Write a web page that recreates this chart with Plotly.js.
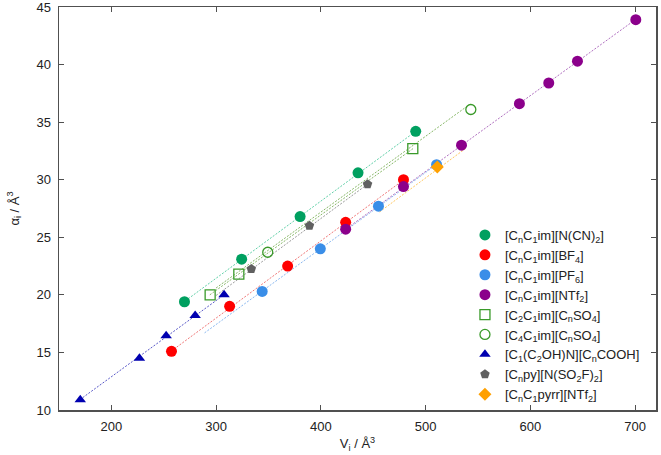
<!DOCTYPE html>
<html>
<head>
<meta charset="utf-8">
<script src="https://cdn.plot.ly/plotly-3.0.1.min.js"></script>
<style>html,body{margin:0;padding:0;background:#fff;}#chart{width:661px;height:455px;}</style>
</head>
<body>
<div id="chart"></div>
<script>
// ---- Data ----
// [CnC1im][N(CN)2]
const ncnV = [269.8, 324.4, 380.2, 435.5, 490.6];
const ncnA = [19.4, 23.1, 26.8, 30.6, 34.2];
// [CnC1im][BF4]
const bf4V = [257.4, 312.9, 368.3, 423.7, 478.9];
const bf4A = [15.1, 19.0, 22.5, 26.3, 30.0];
// [CnC1im][PF6]
const pf6V = [344.0, 399.5, 455.0, 510.5];
const pf6A = [20.3, 24.0, 27.7, 31.3];
// [CnC1im][NTf2]
const ntfV = [423.7, 478.9, 534.3, 589.6, 617.6, 645.0, 700.7];
const ntfA = [25.7, 29.4, 33.0, 36.6, 38.4, 40.3, 43.9];
// [C2C1im][CnSO4]
const c2so4V = [294.3, 321.7, 487.8];
const c2so4A = [20.0, 21.8, 32.7];
// [C4C1im][CnSO4]
const c4so4V = [349.3, 543.2];
const c4so4A = [23.7, 36.1];
// [C1(C2OH)N][CnCOOH]
const coohV = [170.3, 226.8, 252.3, 280.0, 307.6];
const coohA = [10.9, 14.5, 16.45, 18.2, 20.0];
// [Cnpy][N(SO2F)2]
const fsiV = [333.6, 389.1, 444.6];
const fsiA = [22.25, 26.0, 29.6];
// [CnC1pyrr][NTf2]
const pyrrV = [511.2];
const pyrrA = [31.1];

// Fit-line end points
const fitNcnV = [268, 492],  fitNcnA = [19.3, 34.3];
const fitBf4V = [257, 480],  fitBf4A = [15.1, 30.05];
const fitPf6V = [289, 511],  fitPf6A = [16.7, 31.35];
const fitNtfV = [423, 701],  fitNtfA = [25.65, 43.95];
const fitC2V  = [294, 488],  fitC2A  = [20.0, 32.7];
const fitC4V  = [300, 543],  fitC4A  = [20.6, 36.6];
const fitCoohV = [170, 309], fitCoohA = [10.9, 20.1];
const fitFsiV = [300, 446],  fitFsiA = [19.95, 29.7];
const fitPyrrV = [456, 538], fitPyrrA = [27.2, 32.7];

// Tick values
const xTicks = [200, 300, 400, 500, 600, 700];
const yTicks = [10, 15, 20, 25, 30, 35, 40, 45];

const names = [
  '[C<sub>n</sub>C<sub>1</sub>im][N(CN)<sub>2</sub>]',
  '[C<sub>n</sub>C<sub>1</sub>im][BF<sub>4</sub>]',
  '[C<sub>n</sub>C<sub>1</sub>im][PF<sub>6</sub>]',
  '[C<sub>n</sub>C<sub>1</sub>im][NTf<sub>2</sub>]',
  '[C<sub>2</sub>C<sub>1</sub>im][C<sub>n</sub>SO<sub>4</sub>]',
  '[C<sub>4</sub>C<sub>1</sub>im][C<sub>n</sub>SO<sub>4</sub>]',
  '[C<sub>1</sub>(C<sub>2</sub>OH)N][C<sub>n</sub>COOH]',
  '[C<sub>n</sub>py][N(SO<sub>2</sub>F)<sub>2</sub>]',
  '[C<sub>n</sub>C<sub>1</sub>pyrr][NTf<sub>2</sub>]'
];

function fit(x, y, color) {
  return {x: x, y: y, type: 'scatter', mode: 'lines', showlegend: false, hoverinfo: 'skip',
          line: {color: color, width: 1, dash: '2px,1.5px'}};
}
function pts(x, y, name, symbol, color, size, open) {
  const m = {symbol: symbol, color: color, size: size};
  if (open) m.line = {color: color, width: 1.3};
  return {x: x, y: y, type: 'scatter', mode: 'markers', name: name, marker: m};
}

const data = [
  fit(fitNcnV, fitNcnA, '#60d0a8'),
  fit(fitBf4V, fitBf4A, '#f07878'),
  fit(fitPf6V, fitPf6A, '#8ab8f0'),
  fit(fitNtfV, fitNtfA, '#b070c0'),
  fit(fitC2V, fitC2A, '#88b868'),
  fit(fitC4V, fitC4A, '#88b868'),
  fit(fitCoohV, fitCoohA, '#5858c8'),
  fit(fitFsiV, fitFsiA, '#9a9a9a'),
  fit(fitPyrrV, fitPyrrA, '#ffc860'),
  pts(ncnV, ncnA, names[0], 'circle', '#00a060', 11, false),
  pts(bf4V, bf4A, names[1], 'circle', '#ff0000', 11, false),
  pts(pf6V, pf6A, names[2], 'circle', '#3a8ee8', 11, false),
  pts(ntfV, ntfA, names[3], 'circle', '#8b008b', 11, false),
  pts(c2so4V, c2so4A, names[4], 'square-open', '#3a9a2a', 10, true),
  pts(c4so4V, c4so4A, names[5], 'circle-open', '#3a9a2a', 10, true),
  pts(coohV, coohA, names[6], 'triangle-up', '#0000b0', 10, false),
  pts(fsiV, fsiA, names[7], 'pentagon', '#606060', 10, false),
  pts(pyrrV, pyrrA, names[8], 'diamond', '#ffa000', 10, false)
];

const axisCommon = {
  showgrid: false, zeroline: false, showline: true, mirror: 'ticks',
  linecolor: '#505050', linewidth: 1.5, ticks: 'inside', ticklen: 5, tickwidth: 1,
  tickcolor: '#505050', tickfont: {size: 13, color: '#222'}, ticklabeloverflow: 'allow'
};

const layout = {
  width: 661, height: 455,
  margin: {l: 59, r: 5, t: 7, b: 45},
  paper_bgcolor: '#fff', plot_bgcolor: '#fff',
  font: {family: 'Liberation Sans, Arial, sans-serif', color: '#222', size: 13},
  xaxis: Object.assign({}, axisCommon, {
    range: [150, 720], tickmode: 'array', tickvals: xTicks, ticktext: xTicks.map(String),
    ticklabelstandoff: 4,
    title: {text: 'V<sub>i</sub> / Å<sup>3</sup>', font: {size: 13}, standoff: 6}
  }),
  yaxis: Object.assign({}, axisCommon, {
    range: [9.999, 45.001], tickmode: 'array', tickvals: yTicks, ticktext: yTicks.map(String),
    ticklabelstandoff: 4,
    title: {text: 'α<sub>i</sub> / Å<sup>3</sup>', font: {size: 13}, standoff: 14}
  }),
  legend: {
    x: 0.68, xanchor: 'left', y: 0.0, yanchor: 'bottom',
    bgcolor: 'rgba(0,0,0,0)', borderwidth: 0, font: {size: 13, color: '#222'},
    tracegroupgap: 0
  },
  showlegend: true
};

Plotly.newPlot('chart', data, layout, {displayModeBar: false, staticPlot: true});
</script>
</body>
</html>
